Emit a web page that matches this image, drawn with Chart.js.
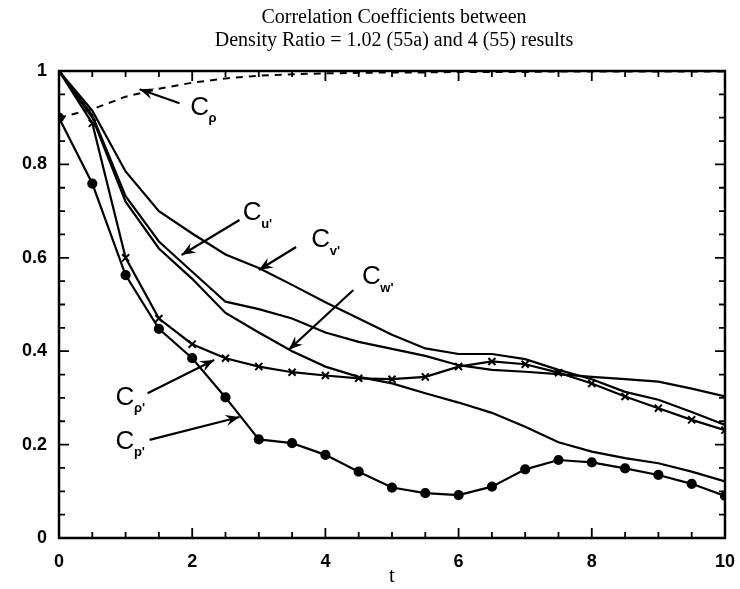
<!DOCTYPE html>
<html>
<head>
<meta charset="utf-8">
<script src="https://cdn.jsdelivr.net/npm/chart.js@4"></script>
<style>
  html, body { margin: 0; padding: 0; background: #fff; }
  #wrap { width: 740px; height: 589px; }
</style>
</head>
<body>
<div id="wrap"><canvas id="chart" width="740" height="589"></canvas></div>
<script>
// time values (t)
const tValues = [0, 0.5, 1, 1.5, 2, 2.5, 3, 3.5, 4, 4.5, 5, 5.5, 6, 6.5, 7, 7.5, 8, 8.5, 9, 9.5, 10];

// correlation coefficients
const cRho      = [0.9, 0.918, 0.945, 0.962, 0.975, 0.984, 0.99, 0.993, 0.995, 0.996, 0.997, 0.997, 0.998, 0.998, 0.998, 0.999, 0.999, 0.999, 0.999, 0.999, 0.999];
const cRhoPrime = [1, 0.888, 0.6, 0.47, 0.415, 0.385, 0.367, 0.355, 0.348, 0.342, 0.34, 0.345, 0.367, 0.378, 0.372, 0.354, 0.331, 0.303, 0.278, 0.253, 0.231];
const cPPrime   = [0.9, 0.759, 0.563, 0.448, 0.385, 0.301, 0.211, 0.203, 0.178, 0.142, 0.108, 0.096, 0.092, 0.11, 0.147, 0.167, 0.162, 0.149, 0.135, 0.116, 0.09];
const cU        = [1, 0.905, 0.732, 0.635, 0.57, 0.506, 0.49, 0.47, 0.44, 0.42, 0.405, 0.39, 0.37, 0.36, 0.356, 0.351, 0.345, 0.34, 0.335, 0.32, 0.303];
const cV        = [1, 0.915, 0.785, 0.7, 0.652, 0.607, 0.578, 0.542, 0.505, 0.47, 0.435, 0.406, 0.394, 0.394, 0.383, 0.36, 0.34, 0.313, 0.296, 0.27, 0.242];
const cW        = [1, 0.9, 0.72, 0.62, 0.555, 0.482, 0.44, 0.4, 0.367, 0.345, 0.331, 0.31, 0.29, 0.268, 0.238, 0.205, 0.185, 0.171, 0.16, 0.142, 0.121];

const titleLines = ['Correlation Coefficients between', 'Density Ratio = 1.02 (55a) and 4 (55) results'];

// curve labels: text position and arrow (tail -> head), in data units
const labels = [
  { sub: 'ρ',  at: [2.11, 0.921], from: [1.81, 0.931], to: [1.21, 0.961] },
  { sub: "u'", at: [2.90, 0.696], from: [2.71, 0.681], to: [1.84, 0.606] },
  { sub: "v'", at: [3.93, 0.638], from: [3.56, 0.623], to: [3.00, 0.574] },
  { sub: "w'", at: [4.69, 0.559], from: [4.42, 0.531], to: [3.45, 0.403] },
  { sub: "ρ'", at: [0.99, 0.300], from: [1.33, 0.310], to: [2.33, 0.381] },
  { sub: "p'", at: [0.99, 0.206], from: [1.36, 0.210], to: [2.71, 0.259] }
];

const pts = arr => tValues.map((t, i) => ({ x: t, y: arr[i] }));

const line = (data, extra) => Object.assign({
  data: pts(data),
  borderColor: '#000',
  backgroundColor: '#000',
  borderWidth: 2.2,
  pointRadius: 0,
  tension: 0,
  fill: false
}, extra);

const framePlugin = {
  id: 'frame',
  afterDatasetsDraw(chart) {
    const { ctx, chartArea: a, scales: { x, y } } = chart;
    ctx.save();
    ctx.strokeStyle = '#000';
    ctx.lineWidth = 2.5;
    ctx.strokeRect(a.left, a.top, a.right - a.left, a.bottom - a.top);
    ctx.lineWidth = 1.8;
    ctx.beginPath();
    for (let v = 0; v <= 10.001; v += 0.5) {
      const px = x.getPixelForValue(v);
      const len = Math.abs(v % 2) < 1e-6 ? 10 : 6;
      ctx.moveTo(px, a.bottom); ctx.lineTo(px, a.bottom - len);
      ctx.moveTo(px, a.top); ctx.lineTo(px, a.top + len);
    }
    for (let k = 0; k <= 20; k++) {
      const py = y.getPixelForValue(k * 0.05);
      const len = k % 4 === 0 ? 10 : 6;
      ctx.moveTo(a.left, py); ctx.lineTo(a.left + len, py);
      ctx.moveTo(a.right, py); ctx.lineTo(a.right - len, py);
    }
    ctx.stroke();

    // title
    ctx.fillStyle = '#000';
    ctx.textAlign = 'center';
    ctx.textBaseline = 'middle';
    ctx.font = '20px "Liberation Serif"';
    const cx = (a.left + a.right) / 2 + 2;
    ctx.fillText(titleLines[0], cx, 18);
    ctx.fillText(titleLines[1], cx, 41);

    // curve labels with arrows
    labels.forEach(l => {
      const tx = x.getPixelForValue(l.at[0]), ty = y.getPixelForValue(l.at[1]);
      ctx.textAlign = 'center';
      ctx.font = '26px "Liberation Sans"';
      ctx.fillText('C', tx, ty);
      ctx.textAlign = 'left';
      ctx.font = 'bold 13px "Liberation Sans"';
      ctx.fillText(l.sub, tx + 9, ty + 11);

      const x1 = x.getPixelForValue(l.from[0]), y1 = y.getPixelForValue(l.from[1]);
      const x2 = x.getPixelForValue(l.to[0]), y2 = y.getPixelForValue(l.to[1]);
      ctx.lineWidth = 2.2;
      ctx.beginPath();
      ctx.moveTo(x1, y1); ctx.lineTo(x2, y2);
      ctx.stroke();
      const ang = Math.atan2(y2 - y1, x2 - x1);
      ctx.beginPath();
      ctx.moveTo(x2, y2);
      ctx.lineTo(x2 - 15 * Math.cos(ang - 0.38), y2 - 15 * Math.sin(ang - 0.38));
      ctx.lineTo(x2 - 9 * Math.cos(ang), y2 - 9 * Math.sin(ang));
      ctx.lineTo(x2 - 15 * Math.cos(ang + 0.38), y2 - 15 * Math.sin(ang + 0.38));
      ctx.closePath();
      ctx.fill();
    });
    ctx.restore();
  }
};

new Chart(document.getElementById('chart'), {
  type: 'line',
  data: {
    datasets: [
      line(cRho, { borderWidth: 2, borderDash: [7, 6] }),
      line(cV),
      line(cU),
      line(cW),
      line(cRhoPrime, { pointRadius: 5, pointStyle: 'crossRot', pointBorderWidth: 2 }),
      line(cPPrime, { pointRadius: 4, pointStyle: 'circle' })
    ]
  },
  plugins: [framePlugin],
  options: {
    responsive: false,
    animation: false,
    layout: { padding: { top: 71, right: 12, left: 0, bottom: 0 } },
    plugins: { legend: { display: false }, tooltip: { enabled: false }, title: { display: false } },
    scales: {
      x: {
        type: 'linear',
        min: 0, max: 10,
        grid: { display: false },
        border: { display: false },
        ticks: { stepSize: 2, color: '#000', padding: 5, font: { size: 18, weight: 'bold', family: '"Liberation Sans"' } },
        title: { display: true, text: 't', color: '#000', padding: 0, font: { size: 21, family: '"Liberation Serif"' } },
        afterFit: s => { s.height = 51; }
      },
      y: {
        min: 0, max: 1,
        grid: { display: false },
        border: { display: false },
        ticks: {
          stepSize: 0.2, color: '#000', padding: 4,
          font: { size: 18, weight: 'bold', family: '"Liberation Sans"' },
          callback: v => String(+v.toFixed(1))
        },
        afterFit: s => { s.width = 59; }
      }
    }
  }
});
</script>
</body>
</html>
